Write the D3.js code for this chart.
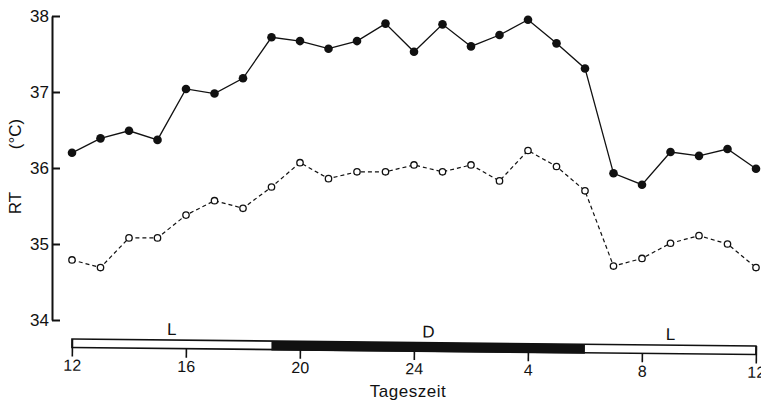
<!DOCTYPE html>
<html>
<head>
<meta charset="utf-8">
<script src="https://cdn.jsdelivr.net/npm/d3@7"></script>
<style>
  body { margin: 0; background: #fff; }
  svg { display: block; }
  text { font-family: "Liberation Sans Narrow", "Liberation Sans", Arial, sans-serif; fill: #111; }
</style>
</head>
<body>
<script>
// hours of the day, counted on from noon (36 = noon next day)
var hours = [12, 13, 14, 15, 16, 17, 18, 19, 20, 21, 22, 23, 24,
             25, 26, 27, 28, 29, 30, 31, 32, 33, 34, 35, 36];

// rectal temperature, filled dots (solid line)
var rtUpper = [36.20, 36.39, 36.49, 36.37, 37.04, 36.98, 37.18, 37.72, 37.67, 37.57, 37.67, 37.90, 37.53,
               37.89, 37.60, 37.75, 37.95, 37.64, 37.31, 35.93, 35.78, 36.21, 36.16, 36.25, 35.99];

// rectal temperature, open dots (dashed line)
var rtLower = [34.79, 34.69, 35.08, 35.08, 35.38, 35.57, 35.47, 35.75, 36.07, 35.86, 35.95, 35.95, 36.04,
               35.95, 36.04, 35.83, 36.23, 36.02, 35.70, 34.71, 34.81, 35.01, 35.11, 35.00, 34.69];

var yTicks = [34, 35, 36, 37, 38];
var xTicks = [12, 16, 20, 24, 28, 32, 36];
var xTickLabels = ['12', '16', '20', '24', '4', '8', '12'];

// light / dark phases
var phases = [
  {label: 'L', start: 12, end: 19, dark: false},
  {label: 'D', start: 19, end: 30, dark: true},
  {label: 'L', start: 30, end: 36, dark: false}
];

var W = 761, H = 403;

var svg = d3.select('body').append('svg')
    .attr('width', W)
    .attr('height', H);

var x = d3.scaleLinear().domain([12, 36]).range([72, 756]);
var y = d3.scaleLinear().domain([34, 38]).range([320, 16]);

// y axis: ticks point inwards
var yAxis = svg.append('g')
    .attr('transform', 'translate(52,0)')
    .call(d3.axisRight(y).tickValues(yTicks).tickSize(8).tickSizeOuter(0).tickFormat(d3.format('d')));
yAxis.select('.domain').attr('stroke', '#111').attr('stroke-width', 2);
yAxis.selectAll('.tick line').attr('stroke', '#111').attr('stroke-width', 2);
yAxis.selectAll('.tick text')
    .attr('x', -3)
    .attr('text-anchor', 'end')
    .attr('font-size', 17)
    .attr('fill', '#111');

// y label
svg.append('text')
    .attr('transform', 'translate(21,203) rotate(-90)')
    .attr('text-anchor', 'middle')
    .attr('font-size', 17)
    .text('RT');
svg.append('text')
    .attr('transform', 'translate(21,134) rotate(-90)')
    .attr('text-anchor', 'middle')
    .attr('font-size', 17)
    .text('(°C)');

// light bar + time axis (slightly tilted like the print)
var tilt = Math.atan2(7, x(36) - x(12)) * 180 / Math.PI;
var barTop = 339, barH = 8.5;
var bar = svg.append('g')
    .attr('transform', 'rotate(' + tilt + ',' + x(12) + ',' + barTop + ')');

bar.append('rect')
    .attr('x', x(12))
    .attr('y', barTop)
    .attr('width', x(36) - x(12))
    .attr('height', barH)
    .attr('fill', '#fff')
    .attr('stroke', '#111')
    .attr('stroke-width', 1.6);

bar.selectAll('rect.dark')
  .data(phases.filter(function(d) { return d.dark; }))
  .enter().append('rect')
    .attr('class', 'dark')
    .attr('x', function(d) { return x(d.start); })
    .attr('y', barTop)
    .attr('width', function(d) { return x(d.end) - x(d.start); })
    .attr('height', barH + 1)
    .attr('fill', '#111');

bar.selectAll('text.phase')
  .data(phases)
  .enter().append('text')
    .attr('class', 'phase')
    .attr('x', function(d) { return x((d.start + d.end) / 2); })
    .attr('y', barTop - 5)
    .attr('text-anchor', 'middle')
    .attr('font-size', 17)
    .text(function(d) { return d.label; });

var xAxis = bar.append('g')
    .attr('transform', 'translate(0,' + (barTop + barH) + ')')
    .call(d3.axisBottom(x).tickValues(xTicks).tickSize(9).tickSizeOuter(0)
      .tickFormat(function(d, i) { return xTickLabels[i]; }));
xAxis.select('.domain').remove();
xAxis.selectAll('.tick line').attr('stroke', '#111').attr('stroke-width', 1.6);
xAxis.selectAll('.tick text')
    .attr('y', 12)
    .attr('font-size', 16)
    .attr('fill', '#111');
// end ticks run up through the bar
xAxis.selectAll('.tick line')
    .filter(function(d) { return d === 12 || d === 36; })
    .attr('y1', -barH);

svg.append('text')
    .attr('x', 408)
    .attr('y', 397)
    .attr('text-anchor', 'middle')
    .attr('font-size', 17)
    .attr('letter-spacing', 0.5)
    .text('Tageszeit');

// series
var lineUpper = d3.line()
    .x(function(d, i) { return x(hours[i]); })
    .y(function(d) { return y(d); });

svg.append('path')
    .datum(rtLower)
    .attr('d', lineUpper)
    .attr('fill', 'none')
    .attr('stroke', '#111')
    .attr('stroke-width', 1.2)
    .attr('stroke-dasharray', '4,3');

svg.append('path')
    .datum(rtUpper)
    .attr('d', lineUpper)
    .attr('fill', 'none')
    .attr('stroke', '#111')
    .attr('stroke-width', 1.3);

svg.selectAll('circle.up')
  .data(rtUpper)
  .enter().append('circle')
    .attr('class', 'up')
    .attr('cx', function(d, i) { return x(hours[i]); })
    .attr('cy', function(d) { return y(d); })
    .attr('r', 4.3)
    .attr('fill', '#111');

svg.selectAll('circle.lo')
  .data(rtLower)
  .enter().append('circle')
    .attr('class', 'lo')
    .attr('cx', function(d, i) { return x(hours[i]); })
    .attr('cy', function(d) { return y(d); })
    .attr('r', 3.2)
    .attr('fill', '#fff')
    .attr('stroke', '#111')
    .attr('stroke-width', 1.3);
</script>
</body>
</html>
